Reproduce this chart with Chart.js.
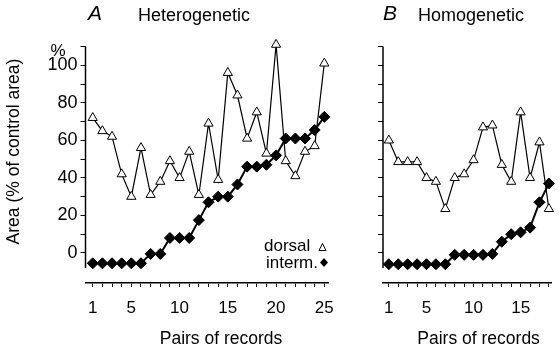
<!DOCTYPE html>
<html>
<head>
<meta charset="utf-8">
<script src="https://cdn.jsdelivr.net/npm/chart.js@4.4.1/dist/chart.umd.min.js"></script>
<style>
  html, body { margin: 0; padding: 0; background: #fff; }
  #wrap { position: relative; width: 560px; height: 347px; }
  canvas { position: absolute; top: 0; }
  #chartA { left: 0; }
  #chartB { left: 345px; }
</style>
</head>
<body>
<div id="wrap">
  <canvas id="chartA" width="345" height="347"></canvas>
  <canvas id="chartB" width="215" height="347"></canvas>
</div>
<script>
  // data
  const pairsA = [1, 2, 3, 4, 5, 6, 7, 8, 9, 10, 11, 12, 13, 14, 15, 16, 17, 18, 19, 20, 21, 22, 23, 24, 25];
  const dorsalA = [72, 65, 62, 42, 30, 56, 31, 38, 49, 40, 54, 31, 69, 39, 96, 84, 61, 75, 53, 111, 49, 41, 54, 57, 101];
  const intermA = [-5.5, -5.5, -5.5, -5.5, -5.5, -5.5, -0.5, -0.5, 8, 8, 8, 17.5, 27, 30, 30, 36.5, 46, 46, 47, 52, 61, 61, 61, 65.5, 72.5];

  const pairsB = [1, 2, 3, 4, 5, 6, 7, 8, 9, 10, 11, 12, 13, 14, 15, 16, 17, 18];
  const dorsalB = [60, 48.5, 48.5, 48.5, 40, 38, 23.5, 40, 42, 49.5, 67, 68, 47, 38, 75, 40, 59, 23.5];
  const intermB = [-6, -6, -6, -6, -6, -6, -6, -1, -1, -1, -1, -0.5, 6, 10, 11, 13.5, 27, 37];

  const yTicks = [0, 10, 20, 30, 40, 50, 60, 70, 80, 90, 100, 110];
  const yLabels = [0, 20, 40, 60, 80, 100];
  const xLabelsA = [1, 5, 10, 15, 20, 25];
  const xLabelsB = [1, 5, 10, 15];

  const FONT = 'Liberation Sans, Arial, sans-serif';

  function series(xs, ys) {
    return xs.map((x, i) => ({ x: x, y: ys[i] }));
  }

  function panelPlugin(cfg) {
    return {
      id: 'panelText',
      afterDraw(chart) {
        const { ctx, chartArea } = chart;
        const y = chart.scales.y;
        const ox = cfg.offsetX;
        ctx.save();

        // y axis line, stops a little below zero
        ctx.strokeStyle = '#000';
        ctx.lineWidth = 1.5;
        ctx.beginPath();
        ctx.moveTo(chartArea.left, y.getPixelForValue(110));
        ctx.lineTo(chartArea.left, y.getPixelForValue(-8));
        ctx.stroke();

        ctx.fillStyle = '#000';
        ctx.textBaseline = 'alphabetic';
        ctx.textAlign = 'left';
        ctx.font = 'italic 21px ' + FONT;
        ctx.fillText(cfg.letter, cfg.letterX - ox, 20);
        ctx.font = '18px ' + FONT;
        ctx.fillText(cfg.title, cfg.titleX - ox, 20.5);

        ctx.font = '17.5px ' + FONT;
        ctx.textAlign = 'center';
        ctx.fillText('Pairs of records', cfg.xTitleX - ox, 344);

        if (cfg.legend) {
          ctx.textAlign = 'center';
          ctx.font = '17px ' + FONT;
          ctx.fillText('%', 58, 56);

          ctx.save();
          ctx.translate(14.5, 151.5);
          ctx.rotate(-Math.PI / 2);
          ctx.font = '17.5px ' + FONT;
          ctx.textBaseline = 'middle';
          ctx.fillText('Area (% of control area)', 0, 0);
          ctx.restore();

          ctx.textAlign = 'left';
          ctx.font = '17px ' + FONT;
          ctx.fillText('dorsal', 264, 251);
          ctx.fillText('interm.', 266, 267.5);

          ctx.lineWidth = 1;
          ctx.fillStyle = '#fff';
          ctx.beginPath();
          ctx.moveTo(322.5, 243.5);
          ctx.lineTo(326, 250.5);
          ctx.lineTo(319, 250.5);
          ctx.closePath();
          ctx.fill();
          ctx.stroke();

          ctx.fillStyle = '#000';
          ctx.beginPath();
          ctx.moveTo(324, 258);
          ctx.lineTo(328, 262.5);
          ctx.lineTo(324, 267);
          ctx.lineTo(320, 262.5);
          ctx.closePath();
          ctx.fill();
        }
        ctx.restore();
      }
    };
  }

  function makePanel(id, pairs, dorsal, interm, xLabels, o) {
    return new Chart(document.getElementById(id), {
      type: 'line',
      data: {
        datasets: [
          {
            label: 'dorsal',
            data: series(pairs, dorsal),
            borderColor: '#000',
            borderWidth: 1.2,
            pointStyle: 'triangle',
            pointRadius: 5.3,
            pointBackgroundColor: '#fff',
            pointBorderColor: '#000',
            pointBorderWidth: 1,
            tension: 0,
            clip: false,
          },
          {
            label: 'interm.',
            data: series(pairs, interm),
            borderColor: '#000',
            borderWidth: 2,
            pointStyle: 'rectRot',
            pointRadius: 5.5,
            pointBackgroundColor: '#000',
            pointBorderColor: '#000',
            pointBorderWidth: 1,
            tension: 0,
            clip: false,
          },
        ],
      },
      options: {
        responsive: false,
        animation: false,
        events: [],
        layout: { padding: { left: 0, right: o.padRight, top: 46.5, bottom: 0 } },
        plugins: {
          legend: { display: false },
          tooltip: { enabled: false },
        },
        scales: {
          x: {
            type: 'linear',
            min: o.xMin,
            max: o.xMax,
            afterBuildTicks(scale) {
              scale.ticks = pairs.map(v => ({ value: v }));
            },
            afterFit(scale) {
              scale.height = 64;
            },
            ticks: {
              autoSkip: false,
              maxRotation: 0,
              padding: 11,
              color: '#000',
              font: { family: FONT, size: 17 },
              callback: v => (xLabels.includes(v) ? String(v) : ''),
            },
            grid: { drawOnChartArea: false, tickLength: 4, color: '#000', lineWidth: 1 },
            border: { display: true, color: '#000', width: 1.5 },
          },
          y: {
            type: 'linear',
            min: -16,
            max: 110,
            afterBuildTicks(scale) {
              scale.ticks = yTicks.map(v => ({ value: v }));
            },
            afterFit(scale) {
              scale.width = o.leftWidth;
            },
            ticks: {
              autoSkip: false,
              padding: 3,
              color: '#000',
              font: { family: FONT, size: 18 },
              callback: v => (o.yText && yLabels.includes(v) ? String(v) : ''),
            },
            grid: { drawOnChartArea: false, tickLength: 5, color: '#000', lineWidth: 1 },
            border: { display: false },
          },
        },
      },
      plugins: [panelPlugin(o.text)],
    });
  }

  makePanel('chartA', pairsA, dorsalA, intermA, xLabelsA, {
    xMin: 0.25, xMax: 25.45, leftWidth: 85.5, padRight: 13, yText: true,
    text: { offsetX: 0, letter: 'A', letterX: 88, title: 'Heterogenetic', titleX: 138, xTitleX: 221, legend: true },
  });

  makePanel('chartB', pairsB, dorsalB, intermB, xLabelsB, {
    xMin: 0.38, xMax: 18.32, leftWidth: 38, padRight: 3, yText: false,
    text: { offsetX: 345, letter: 'B', letterX: 383, title: 'Homogenetic', titleX: 418, xTitleX: 478.6, legend: false },
  });
</script>
</body>
</html>
